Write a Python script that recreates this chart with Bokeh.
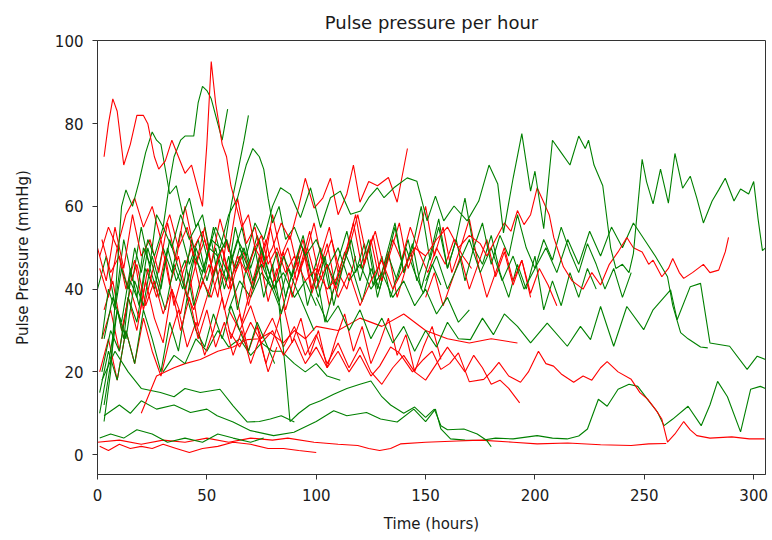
from bokeh.plotting import figure
from bokeh.models import Range1d, FixedTicker
from bokeh.embed import file_html
from bokeh.resources import INLINE

RED = "#ff0000"
GREEN = "#008000"

title_text = "Pulse pressure per hour"
x_label = "Time (hours)"
y_label = "Pulse Pressure (mmHg)"
x_ticks = [0, 50, 100, 150, 200, 250, 300]
y_ticks = [0, 20, 40, 60, 80, 100]

# ---- red series, hour/value pairs ----
r_high_h = [3, 5, 7, 9, 12, 15, 18, 21, 23, 26, 28, 31, 34, 37, 40, 43, 46, 48, 50, 52, 54, 57, 59, 61, 63, 66, 69, 72, 75, 78, 82, 86, 90, 95, 100, 105, 110]
r_high_v = [72, 80, 86, 83, 70, 75, 82, 82, 80, 72, 69, 71, 76, 72, 68, 70, 64, 60, 75, 95, 85, 75, 72, 65, 61, 55, 58, 50, 53, 46, 50, 44, 48, 42, 45, 40, 43]

r_mid_h = [40, 44, 48, 52, 56, 60, 64, 68, 72, 76, 80, 84, 88, 92, 95, 99, 103, 106.5, 110, 114, 117, 120, 124, 128, 133, 137, 141.7]
r_mid_v = [40, 35, 42, 38, 45, 40, 48, 44, 50, 46, 50, 56, 52, 60, 66.8, 59.6, 62, 66.8, 58, 63, 70, 61, 66, 65, 67, 61, 74]

r_right_h = [100, 105, 110, 115, 120, 125, 130, 135, 140, 145, 150, 155, 160, 165, 170, 175, 178, 182, 186, 189, 192, 195, 198, 201, 204, 206.5, 208.6, 213, 217, 222, 226, 230, 234, 238, 242, 245, 249, 252, 254, 258, 261, 263, 266, 268, 272, 277, 280, 284, 287, 288.5]
r_right_v = [40, 46, 38, 44, 36, 42, 47, 40, 45, 50, 48, 52, 55, 50, 53, 51, 48, 52, 56, 54, 59, 55.6, 58, 64.5, 61, 58, 52.5, 45.4, 42, 40, 44, 41, 46, 49, 52.5, 50, 49, 46, 47, 43, 45, 47.4, 44, 42.6, 44, 46, 44, 44.6, 49, 52.5]

r_desc_h = [60, 65, 70, 75, 80, 85, 90, 95, 100, 105, 110, 115, 120, 125, 129, 134, 138, 144, 149, 153, 157, 161, 165, 170, 176.6, 180, 183.5, 188, 193.4, 197, 201.6, 205, 208.5, 212, 217.7, 222, 226, 230, 233, 238, 244, 248, 251.5, 255, 258, 260.6, 264, 268, 271, 274, 280, 290, 298, 305]
r_desc_v = [30, 26, 32, 27, 30, 24, 28, 22, 26, 21, 25, 20, 24, 19, 21.4, 26, 24.6, 20, 23, 25, 20.6, 22, 24.6, 17.6, 18.2, 20, 22.3, 19, 17.5, 20, 25, 22, 21.4, 19.5, 17.5, 19, 18, 21, 22.5, 20, 18.2, 15, 13.4, 11, 8.6, 3, 5, 8, 6, 4.6, 4, 4.3, 3.8, 3.8]

r_193_h = [60, 65, 70, 75, 80, 85, 90, 95, 100, 105, 110, 115, 120, 125, 130, 135, 140, 145, 150, 155, 160, 164, 168, 172, 176, 180, 184, 188, 193]
r_193_v = [35, 30, 36, 28, 33, 26, 31, 24, 29, 22, 27, 21, 26, 20, 17, 21, 24, 20, 18, 22, 26, 23, 20, 24, 21, 17, 18, 16, 12.5]

r_diag_h = [20, 27, 35, 40, 47, 55, 62, 68.4, 74, 79, 85, 90, 95, 100, 110, 120, 130, 140, 150, 160, 170, 180, 192]
r_diag_v = [10, 19, 21, 22, 23, 25, 26, 27.8, 28, 29.5, 27, 30, 28, 31, 30, 33, 31, 34, 30, 28, 27, 28, 27]

r_flat_h = [0, 10, 20, 30, 40, 50, 60, 70, 80, 87, 99, 110, 119, 124, 129, 134, 138.5, 150, 164.6, 175, 190, 201, 215, 230, 244, 252, 260]
r_flat_v = [3, 3.5, 2.5, 3.5, 3, 4, 3, 4, 3.5, 4, 3, 2.5, 2.2, 1.5, 1, 1.5, 2.6, 3, 3.3, 3.5, 3, 2.6, 2.8, 2.4, 2.2, 2.6, 2.7]

r_low_h = [1, 5, 10, 15, 20, 25, 30, 36, 42, 48, 55, 62, 70, 78, 85, 92, 100]
r_low_v = [2, 1, 2.5, 1.5, 2, 1.5, 2.5, 1.5, 0.5, 1.5, 2, 3, 2.5, 1.5, 1.5, 1, 0.5]

# ---- green series, hour/value pairs ----
g_peak_h = [3, 6, 9, 12, 15, 18, 21, 24, 27, 30, 33, 35, 38, 40, 44, 46, 48, 50, 52, 55, 57, 59.5]
g_peak_v = [12, 22, 35, 28, 42, 38, 50, 46, 58, 55, 66, 72, 76, 77, 77, 85, 89, 88, 86, 80, 76, 83.5]

g_82_h = [2, 5, 8, 11, 14, 17, 20, 23, 26, 30, 34, 38, 42, 46, 50, 54, 58, 61, 64, 67, 69]
g_82_v = [28, 40, 35, 45, 40, 50, 44, 52, 48, 55, 50, 58, 52, 56, 48, 55, 50, 60, 68, 76, 82]

g_78_h = [3, 6, 9, 11, 13, 16, 19, 22, 25, 27, 29, 30, 33, 36, 39, 42, 45, 48, 51, 55, 59, 63, 67, 71, 75, 80, 85, 90, 95, 100]
g_78_v = [8, 20, 45, 60, 64, 60, 66, 73, 78, 76, 75, 72, 63, 65, 58, 62, 55, 58, 50, 48, 52, 45, 50, 42, 46, 40, 44, 38, 42, 36]

g_74_h = [40, 44, 48, 52, 56, 60, 64, 68, 71, 74, 76, 78, 80, 83, 86, 90, 95, 100, 105, 110, 115, 120, 125, 130, 135, 140, 145, 150, 155, 160, 165, 170]
g_74_v = [40, 48, 44, 52, 50, 58, 62, 70, 74, 72, 69, 62, 56, 60, 52, 55, 48, 52, 45, 50, 42, 46, 40, 44, 38, 42, 36, 40, 34, 38, 32, 35]

g_long_h = [60, 64, 68, 72, 76, 80, 83.7, 88.2, 92.8, 97.4, 102, 106.5, 111, 115.7, 120.3, 124, 127.9, 131, 135.5, 141.6, 146, 150.7, 154.5, 158.3, 163, 169, 174.3, 179, 183, 185.6, 190, 194, 198, 200, 204, 208, 212, 216, 220, 223, 224.5, 227, 231, 234.6, 237, 240, 243, 245, 249, 251, 254, 257.4, 261, 264, 267.5, 271, 274, 277, 281, 284, 287, 291, 294, 297.7, 300, 302, 304, 305.4]
g_long_v = [45, 52, 48, 56, 52, 60, 64.5, 62.9, 57.3, 64.5, 54.9, 62.1, 63.7, 58.1, 58.9, 62.1, 64.5, 62.1, 64.5, 66.9, 66.1, 56.5, 62.5, 56.5, 60.1, 56.5, 61.3, 70, 65.4, 53.6, 66.8, 77.6, 63.7, 68.5, 54.6, 76, 73, 70, 77, 74, 76, 70, 65, 50, 45, 46, 44, 48.6, 71.4, 66, 60.6, 69, 60.8, 72.8, 64.4, 67.3, 62, 56, 61.3, 64, 66.8, 61.3, 64.2, 63, 66, 57, 49.3, 50]

g_23_h = [100, 105, 110, 115, 120, 125, 130, 135, 140, 145, 150, 155, 160, 165, 170.5, 176, 181, 186, 192, 198, 205.6, 214.8, 220.8, 225.4, 230, 236, 242, 249.7, 254, 262, 265, 271, 275.7, 280, 289, 297, 301.6, 305.4]
g_23_v = [38, 32, 36, 30, 35, 28, 33, 27, 31, 25, 30, 26, 32, 28, 27.8, 33, 29, 34, 31, 27, 31.8, 26.2, 31, 27.8, 35.8, 26.2, 35.8, 30.2, 35, 39.8, 32.6, 40.6, 41.4, 27, 26.2, 20.6, 23.8, 23]

g_hook_h = [150, 155, 160, 165, 170, 175, 180, 185, 190, 195, 200, 205, 210, 215, 220, 225, 230, 235, 240, 245, 250, 255, 260.6, 263, 266.6, 270, 275.7, 279]
g_hook_v = [42, 48, 40, 46, 52, 44, 50, 42, 48, 40, 45, 50, 44, 52, 46, 54, 48, 55, 50, 56, 52, 48, 43, 36, 29.5, 28, 26, 25.8]

g_drop_h = [60, 65, 70, 75, 80, 83, 86, 88, 92, 97, 102, 108, 114, 120, 125, 130, 134, 140, 145, 150, 154, 157, 160, 167.5, 173.6, 178, 180]
g_drop_v = [35, 42, 38, 44, 40, 36, 20, 8, 10, 12, 13, 14.6, 16, 17, 17.8, 14, 12, 10, 11.5, 9, 11, 7, 6, 6.2, 5, 3.4, 1.9]

g_lowlong_h = [3, 10, 15, 20, 27, 35, 42.5, 50, 54.7, 62, 70, 80.5, 89.8, 100, 108, 114, 123, 129.4, 137, 144.6, 150, 154.5, 157, 161.4, 168, 175, 182, 190, 201, 208, 214.7, 220, 224, 229, 233, 238, 243, 247, 252, 256, 259, 263, 270, 276, 280, 283.5, 288, 294, 298.6, 303, 305.4]
g_lowlong_v = [9.4, 12, 10, 13, 11, 12, 10.2, 11, 9.4, 7.9, 5.8, 4.6, 5.4, 8, 10.6, 9.4, 10.2, 8.6, 7.9, 11, 8, 11, 6.2, 3.8, 3.5, 3.4, 4, 3.8, 4.6, 4, 3.8, 4.5, 6.2, 13.4, 11.7, 15.8, 17, 16.5, 13, 10.3, 7, 8.6, 11.7, 7, 12, 17.7, 14, 5.5, 15.8, 16.5, 16]

g_15_h = [2, 8, 14, 20, 28.8, 35, 40, 47, 56, 62, 68.4, 74, 79, 84, 90]
g_15_v = [18, 25, 20, 16, 15, 14, 16, 15, 15.8, 11.8, 7.9, 8, 8.6, 9.4, 7.9]

g_plat_h = [30, 35, 40, 45, 50, 55, 60, 65, 70, 75, 80, 84, 90, 95, 100, 105, 111]
g_plat_v = [20, 24, 22, 28, 25, 30, 26, 28, 24, 27, 25, 25, 22, 20, 22, 19, 18]

g_bot_h = [1, 6, 12, 18, 25, 32, 40, 48, 55, 62, 70, 76]
g_bot_v = [4, 5, 4, 6, 5, 3, 4, 3, 5, 4, 3, 4]

# ---- hourly-cluster series, one reading every 4 hours from a start hour ----
STEP_H = 4
cr1_start, cr1_v = 1, [45, 38, 50, 40, 47, 35, 44, 52, 41, 48, 38, 46, 55, 43, 50, 40, 48, 36, 45, 52, 42, 49, 38, 46, 54, 44, 51, 40, 47, 56, 45, 52, 42, 49, 38, 45]
cr2_start, cr2_v = 2, [28, 35, 25, 38, 30, 42, 33, 27, 40, 34, 44, 31, 38, 46, 35, 42, 32, 40, 48, 37, 45, 35, 43, 50, 39, 46, 36, 44, 40, 48]
cr3_start, cr3_v = 0, [50, 42, 55, 45, 58, 48, 52, 44, 56, 47, 60, 50, 54, 46, 57, 49, 62, 51, 55, 45, 58, 48, 53, 44, 50, 42]
cr4_start, cr4_v = 3, [35, 42, 30, 40, 33, 45, 38, 48, 36, 44, 50, 40, 46, 38, 52, 44, 49, 40, 47, 55, 45, 50, 42, 48, 56, 46, 52, 44, 50, 58, 48, 54, 45, 52, 47, 55, 49, 44, 50, 46, 52, 48, 45]
cr5_start, cr5_v = 1, [20, 28, 18, 30, 22, 33, 25, 19, 28, 35, 26, 32, 24, 30, 38, 28, 34, 25, 31, 22, 29, 36, 27, 33, 24, 30, 21, 28, 34, 25, 31, 22, 27, 33, 24, 29, 20, 26, 31, 23]
cr6_start, cr6_v = 2, [52, 44, 48, 40, 46, 36, 42, 34, 40, 30, 38, 28, 35, 26, 32, 24, 30, 22, 28, 20, 26]
cr7_start, cr7_v = 90, [45, 52, 40, 48, 55, 44, 50, 58, 46, 53, 42, 49, 56, 45, 51, 60, 48, 55, 44, 50, 57, 46, 52, 43, 49, 41, 47, 38]
cr8_start, cr8_v = 150, [38, 44, 36, 42, 48, 40, 46, 38, 44, 50, 42, 47, 39, 45, 41, 36]
cr9_start, cr9_v = 1, [48, 55, 50, 58, 62, 55, 60, 52, 58, 50, 55, 46, 52, 44, 50, 42]

cg1_start, cg1_v = 0, [40, 48, 36, 52, 42, 55, 45, 38, 50, 42, 47, 36, 44, 52, 40, 48, 35, 45, 50, 38, 46, 34, 42, 48, 36, 44, 32, 40]
cg2_start, cg2_v = 2, [20, 30, 25, 38, 32, 45, 40, 50, 44, 54, 46, 52, 42, 50, 40, 48, 55, 45, 52, 42, 49, 38, 46, 53, 43, 50, 40, 47, 54, 44, 51, 41, 48, 38, 45, 52, 42, 48]
cg3_start, cg3_v = 1, [10, 22, 35, 28, 42, 36, 48, 40, 52, 45, 38, 50, 44, 55, 47, 42, 50, 45, 53, 46, 40, 48, 43, 51, 45, 38, 46, 41, 49, 44, 37, 45, 40, 48, 42, 50, 44, 39, 46, 41]
cg4_start, cg4_v = 3, [28, 38, 32, 45, 36, 50, 42, 35, 46, 40, 52, 44, 38, 48, 42, 55, 46, 40, 50, 43, 37, 45, 40, 35, 30]
cg5_start, cg5_v = 100, [40, 48, 36, 45, 52, 42, 50, 38, 46, 55, 44, 51, 40, 48, 57, 45, 52, 42, 50, 46, 53, 44, 38, 46, 40, 48, 35, 42, 36, 44, 38, 45, 40]
cg6_start, cg6_v = 120, [45, 52, 40, 48, 56, 44, 50, 60, 47, 55, 45, 52, 62, 50, 56, 46, 53, 48, 58, 50, 45, 52, 47, 55, 49, 44, 51, 46, 40, 45, 38, 44]
cg7_start, cg7_v = 1, [15, 25, 18, 30, 22, 35, 28, 20, 32, 25, 38, 30, 26, 34, 28, 36, 30, 25, 32, 27, 22]

explicit_series = [
    (GREEN, g_lowlong_h, g_lowlong_v), (RED, r_flat_h, r_flat_v), (RED, r_low_h, r_low_v),
    (GREEN, g_bot_h, g_bot_v), (GREEN, g_15_h, g_15_v), (RED, r_diag_h, r_diag_v),
    (GREEN, g_plat_h, g_plat_v), (RED, r_193_h, r_193_v), (GREEN, g_drop_h, g_drop_v),
    (RED, r_desc_h, r_desc_v),
]
stepped_series = [
    (RED, cr5_start, cr5_v), (GREEN, cg7_start, cg7_v), (RED, cr2_start, cr2_v),
    (GREEN, cg1_start, cg1_v), (RED, cr1_start, cr1_v), (GREEN, cg2_start, cg2_v),
    (RED, cr4_start, cr4_v), (GREEN, cg3_start, cg3_v), (RED, cr3_start, cr3_v),
    (GREEN, cg4_start, cg4_v), (RED, cr6_start, cr6_v), (GREEN, cg5_start, cg5_v),
    (RED, cr7_start, cr7_v), (GREEN, cg6_start, cg6_v), (RED, cr8_start, cr8_v),
    (RED, cr9_start, cr9_v),
]
top_series = [
    (GREEN, g_23_h, g_23_v), (GREEN, g_hook_h, g_hook_v), (GREEN, g_74_h, g_74_v),
    (RED, r_right_h, r_right_v), (GREEN, g_78_h, g_78_v), (RED, r_mid_h, r_mid_v),
    (GREEN, g_82_h, g_82_v), (GREEN, g_long_h, g_long_v), (GREEN, g_peak_h, g_peak_v),
    (RED, r_high_h, r_high_v),
]

p = figure(width=772, height=540, output_backend="svg", toolbar_location=None,
           x_range=Range1d(0, 305.4), y_range=Range1d(-4.8, 100.1),
           title=title_text, min_border_left=97, min_border_right=7,
           min_border_top=40, min_border_bottom=66)

LW = 1.1
for color, hs, vs in explicit_series:
    p.line(hs, vs, line_color=color, line_width=LW)
for color, start, vs in stepped_series:
    hs = [start + STEP_H * i for i in range(len(vs))]
    p.line(hs, vs, line_color=color, line_width=LW)
for color, hs, vs in top_series:
    p.line(hs, vs, line_color=color, line_width=LW)

FONT = "DejaVu Sans"
p.title.align = "center"
p.title.text_font = FONT
p.title.text_font_size = "18px"
p.title.text_font_style = "normal"
p.title.text_color = "#1a1a1a"
p.title.standoff = 16

p.xaxis.ticker = FixedTicker(ticks=x_ticks)
p.yaxis.ticker = FixedTicker(ticks=y_ticks)
p.xaxis.axis_label = x_label
p.yaxis.axis_label = y_label
for ax in (p.xaxis, p.yaxis):
    ax.axis_label_text_font = FONT
    ax.axis_label_text_font_size = "15px"
    ax.axis_label_text_font_style = "normal"
    ax.axis_label_text_color = "#1a1a1a"
    ax.major_label_text_font = FONT
    ax.major_label_text_font_size = "15px"
    ax.major_label_text_color = "#1a1a1a"
    ax.axis_line_color = "#333333"
    ax.major_tick_line_color = "#333333"
    ax.major_tick_out = 5
    ax.major_tick_in = 0
    ax.minor_tick_out = 0
    ax.minor_tick_in = 0
p.xaxis.major_label_standoff = 9
p.xaxis.axis_label_standoff = 11
p.yaxis.major_label_standoff = 9
p.yaxis.axis_label_standoff = 20

p.xgrid.visible = False
p.ygrid.visible = False
p.outline_line_color = "#333333"
p.outline_line_width = 1
p.background_fill_color = "white"
p.border_fill_color = "white"

open("out.html", "w").write(file_html(p, INLINE))
